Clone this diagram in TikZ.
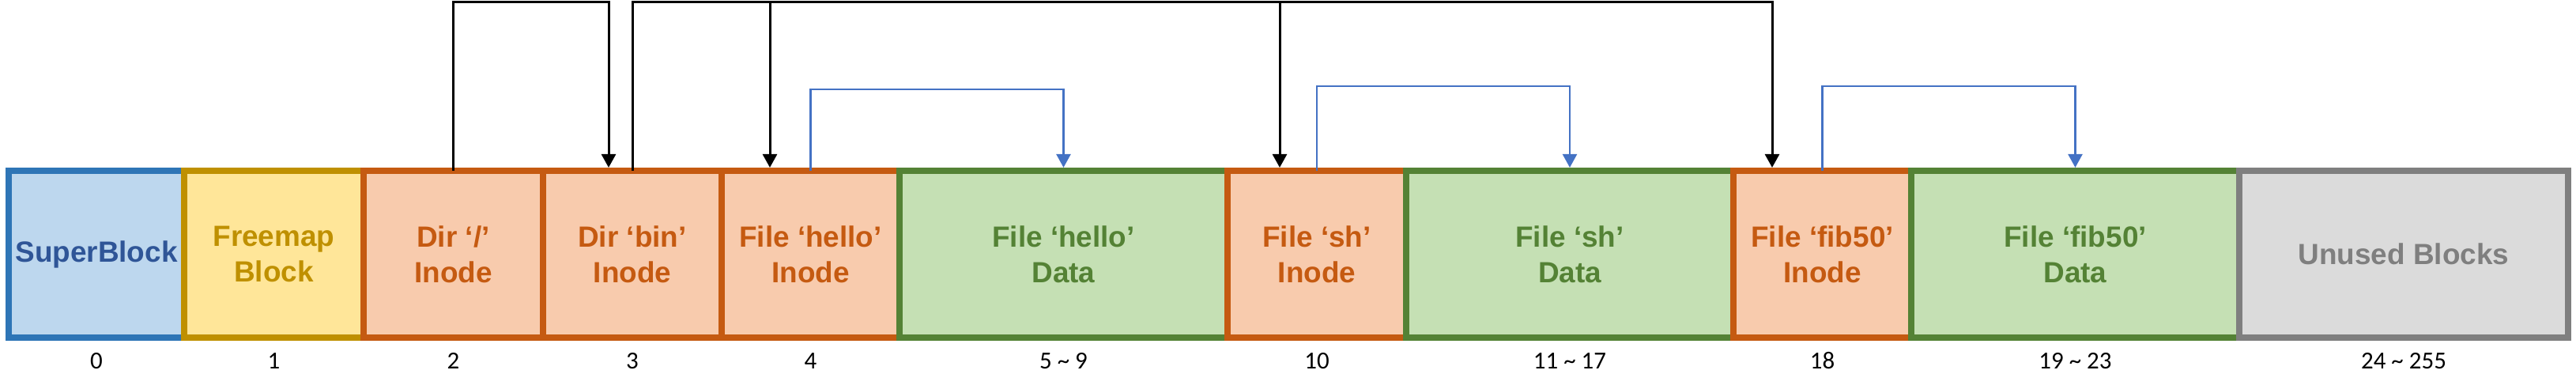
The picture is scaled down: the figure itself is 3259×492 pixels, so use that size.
\documentclass[tikz,border=0pt]{standalone}
\usepackage{fontspec}
\setmainfont{Liberation Sans}
\newfontfamily\labelfont{Carlito}
\usetikzlibrary{arrows.meta,calc}
\definecolor{sbfill}{HTML}{BDD7EE}
\definecolor{sbdraw}{HTML}{2E75B6}
\definecolor{sbtext}{HTML}{2F5597}
\definecolor{fmfill}{HTML}{FFE699}
\definecolor{fmdraw}{HTML}{BF9000}
\definecolor{infill}{HTML}{F8CBAD}
\definecolor{indraw}{HTML}{C55A11}
\definecolor{dafill}{HTML}{C5E0B4}
\definecolor{dadraw}{HTML}{548235}
\definecolor{unfill}{HTML}{DBDBDB}
\definecolor{undraw}{HTML}{7F7F7F}
\definecolor{linkblue}{HTML}{4472C4}
\begin{document}
\begin{tikzpicture}[x=0.01cm,y=0.01cm,
  blk/.style={draw, line width=0.075cm, inner sep=0pt, outer sep=0pt,
    minimum height=2.11cm, align=center,
    font=\bfseries\fontsize{10.5}{12.8}\selectfont},
  sbbox/.style={blk, fill=sbfill, draw=sbdraw, text=sbtext},
  fmbox/.style={blk, fill=fmfill, draw=fmdraw, text=fmdraw},
  inbox/.style={blk, fill=infill, draw=indraw, text=indraw},
  dabox/.style={blk, fill=dafill, draw=dadraw, text=dadraw},
  unbox/.style={blk, fill=unfill, draw=undraw, text=undraw},
  num/.style={anchor=base, inner sep=0pt, font=\labelfont\fontsize{8.8}{10}\selectfont},
  link/.style={line width=0.03cm, -{Triangle[length=0.17cm,width=0.18cm]}},
  blink/.style={link, draw=linkblue, line width=0.025cm, -{Triangle[length=0.17cm,width=0.18cm,fill=linkblue]}}
]
\useasboundingbox (0,0) rectangle (3259,492);

\node[sbbox, minimum width=2.22cm] (b0) at (122,170.5) {SuperBlock};
\node[fmbox, minimum width=2.27cm] (b1) at (346.5,170.5) {Freemap\\Block};
\node[inbox, minimum width=2.27cm] (b2) at (573.5,170.5) {Dir ‘/’\\Inode};
\node[inbox, minimum width=2.26cm] (b3) at (800,170.5) {Dir ‘bin’\\Inode};
\node[inbox, minimum width=2.25cm] (b4) at (1025.5,170.5) {File ‘hello’\\Inode};
\node[dabox, minimum width=4.15cm] (b5) at (1345.5,170.5) {File ‘hello’\\Data};
\node[inbox, minimum width=2.26cm] (b10) at (1666,170.5) {File ‘sh’\\Inode};
\node[dabox, minimum width=4.14cm] (b11) at (1986,170.5) {File ‘sh’\\Data};
\node[inbox, minimum width=2.25cm] (b18) at (2305.5,170.5) {File ‘fib50’\\Inode};
\node[dabox, minimum width=4.15cm] (b19) at (2625.5,170.5) {File ‘fib50’\\Data};
\node[unbox, minimum width=4.16cm] (b24) at (3041,170.5) {Unused Blocks};

\node[num] (l0) at ($(b0.south)+(0,-39.5)$) {0};
\node[num] (l1) at ($(b1.south)+(0,-39.5)$) {1};
\node[num] (l2) at ($(b2.south)+(0,-39.5)$) {2};
\node[num] (l3) at ($(b3.south)+(0,-39.5)$) {3};
\node[num] (l4) at ($(b4.south)+(0,-39.5)$) {4};
\node[num] (l5) at ($(b5.south)+(0,-39.5)$) {5 \char`~\ 9};
\node[num] (l10) at ($(b10.south)+(0,-39.5)$) {10};
\node[num] (l11) at ($(b11.south)+(0,-39.5)$) {11 \char`~\ 17};
\node[num] (l18) at ($(b18.south)+(0,-39.5)$) {18};
\node[num] (l19) at ($(b19.south)+(0,-39.5)$) {19 \char`~\ 23};
\node[num] (l24) at ($(b24.south)+(0,-39.5)$) {24 \char`~\ 255};

% black links
\draw[link] (b2.north) -- ++(0,213) -| ($(b3.north)+(-30,4)$);
\draw[link] (b3.north) |- ($(b18.north)+(-63.5,213)$) -- ($(b18.north)+(-63.5,4)$);
\draw[link] ($(b4.north)+(-51.5,213)$) -- ($(b4.north)+(-51.5,4)$);
\draw[link] ($(b10.north)+(-47,213)$) -- ($(b10.north)+(-47,4)$);

% blue links
\draw[blink] (b4.north) -- ++(0,103) -| ($(b5.north)+(0,4)$);
\draw[blink] (b10.north) -- ++(0,107) -| ($(b11.north)+(0,4)$);
\draw[blink] (b18.north) -- ++(0,107) -| ($(b19.north)+(0,4)$);
\end{tikzpicture}
\end{document}
